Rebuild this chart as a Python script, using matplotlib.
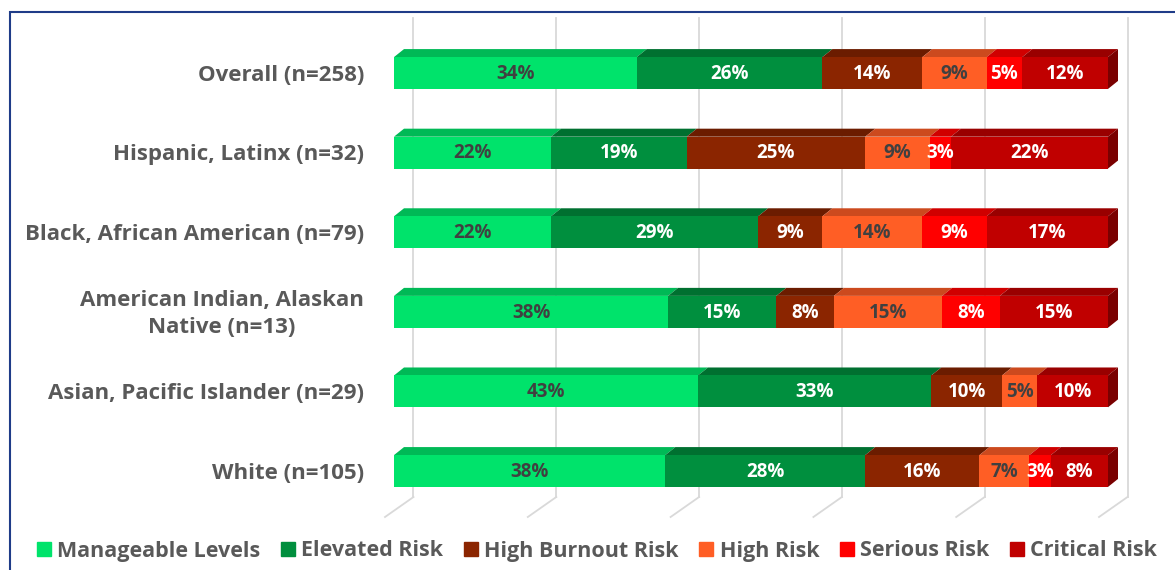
import matplotlib.pyplot as plt
from matplotlib.patches import Polygon, Rectangle

plt.rcParams['font.family'] = ['Open Sans', 'DejaVu Sans']

groups = ['Overall (n=258)', 'Hispanic, Latinx (n=32)', 'Black, African American (n=79)',
          'American Indian, Alaskan\nNative (n=13)', 'Asian, Pacific Islander (n=29)', 'White (n=105)']
levels = ['Manageable Levels', 'Elevated Risk', 'High Burnout Risk', 'High Risk',
          'Serious Risk', 'Critical Risk']
manageable = [34, 22, 22, 38, 43, 38]
elevated = [26, 19, 29, 15, 33, 28]
high_burnout = [14, 25, 9, 8, 10, 16]
high_risk = [9, 9, 14, 15, 5, 7]
serious = [5, 3, 9, 8, 0, 3]
critical = [12, 22, 17, 15, 10, 8]
series = [manageable, elevated, high_burnout, high_risk, serious, critical]
grid_ticks = [0, 20, 40, 60, 80, 100]

front_colors = ['#00E36B', '#008F3E', '#8B2500', '#FF5E25', '#FF0000', '#C00000']
top_colors = ['#00B956', '#007030', '#6B1C00', '#CC4A1E', '#D00000', '#990000']
side_color = '#7A0000'
text_colors = ['#404040', 'white', 'white', '#404040', 'white', 'white']

W, H = 1175, 570
fig = plt.figure(figsize=(W / 100, H / 100), dpi=100)
# axes placed in pixel terms
ax_l, ax_r, ax_t, ax_b = 385, 1140, 18, 522
ax = fig.add_axes([ax_l / W, 1 - ax_b / H, (ax_r - ax_l) / W, (ax_b - ax_t) / H])

px_x = 7.14   # px per percent
px_y = 79.6   # px per row
x0_px, y0_px = 394, 73
ax.set_xlim(-(x0_px - ax_l) / px_x, 100 + (ax_r - 1108) / px_x)
ax.set_ylim((ax_b - y0_px) / px_y, -(y0_px - ax_t) / px_y)
ax.axis('off')

# 3d depth in data units
dx, dy = 10 / px_x, 8 / px_y
back_dx = 19.5 / px_x
floor_dx = -9 / px_x
wall_bottom = (497 - y0_px) / px_y
floor_front = (517 - y0_px) / px_y
top_y = -(y0_px - 18) / px_y

for t in grid_ticks:
    ax.plot([t + back_dx, t + back_dx], [top_y, wall_bottom], color='#D9D9D9', lw=1.3,
            zorder=0, clip_on=False)
    ax.plot([t + back_dx, t + floor_dx], [wall_bottom, floor_front], color='#D9D9D9', lw=1.3,
            zorder=0, clip_on=False)

h = 0.2
for i, g in enumerate(groups):
    total = sum(vals[i] for vals in series)
    left = 0
    for k, vals in enumerate(series):
        v = vals[i]
        if v == 0:
            continue
        w = v / total * 100   # 100% stacked
        ax.barh(i, w, left=left, height=2 * h, color=front_colors[k], edgecolor='none', zorder=3)
        top = Polygon([(left, i - h), (left + w, i - h), (left + w + dx, i - h - dy),
                       (left + dx, i - h - dy)], closed=True, facecolor=top_colors[k],
                      edgecolor='none', zorder=2)
        ax.add_patch(top)
        ax.text(left + w / 2, i + 0.01, f'{v}%', ha='center', va='center', fontsize=13.5,
                fontweight='bold', color=text_colors[k], zorder=5)
        left += w
    side = Polygon([(left, i - h), (left + dx, i - h - dy), (left + dx, i + h - dy), (left, i + h)],
                   closed=True, facecolor=side_color, edgecolor='none', zorder=2)
    ax.add_patch(side)
    ax.text(-(x0_px - 364) / px_x, i + 0.03, g, ha='right', va='center', fontsize=16,
            fontweight='bold', color='#595959', linespacing=1.4, multialignment='center')

handles = [Rectangle((0, 0), 1, 1, color=c) for c in front_colors]
fig.legend(handles, levels, loc='center', bbox_to_anchor=(597 / W, 1 - 551 / H), ncol=6,
           frameon=False, prop={'size': 15.5, 'weight': 'bold'}, handlelength=0.65,
           handleheight=0.65, handletextpad=0.3, columnspacing=0.95, labelcolor='#595959')

# outer border
fig.patches.append(Rectangle((10 / W, -0.1), 1.2, 1 - 12 / H + 0.1, transform=fig.transFigure,
                             fill=False, edgecolor='#1F3C88', lw=1.5, zorder=10))

fig.savefig('out.png', dpi=100)
